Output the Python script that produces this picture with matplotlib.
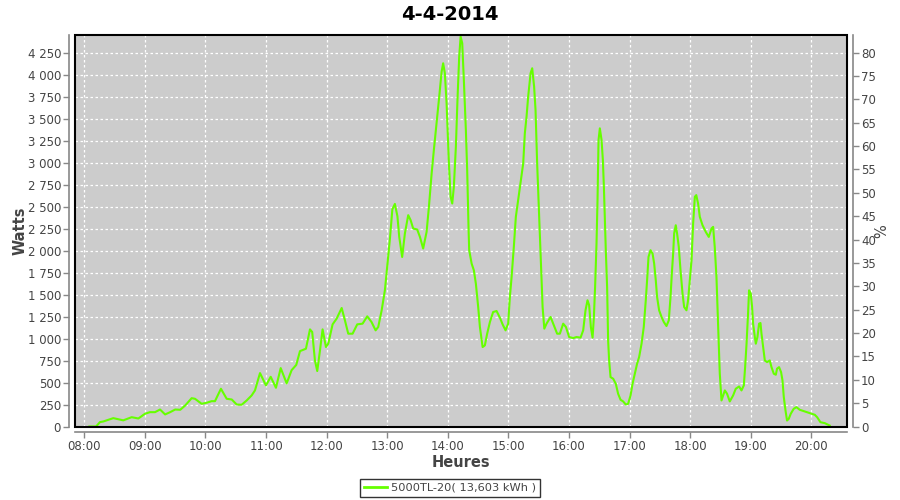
import matplotlib
matplotlib.use("Agg")
import matplotlib.pyplot as plt
from matplotlib.ticker import FuncFormatter, FixedLocator
from matplotlib.patches import Rectangle
from matplotlib.lines import Line2D

# ---- data (minutes after 08:00, watts) ----
minutes = [5, 11.6, 15.5, 18.8, 22.2, 28.7, 33.7, 38.6, 46.9, 53.5, 60.1, 65, 70, 75, 80, 85, 90, 95, 100,
           106.3, 109.6, 116.2, 121.2, 126.1, 129.4, 135.3, 141, 146, 150.9, 155.8, 160.8, 165.7, 169, 174,
           179.9, 184.6, 189.8, 194.5, 200.4, 205.3, 209.9, 213.6, 219.5, 223.5, 225.7, 228.4, 230.7, 233.4,
           236, 239.3, 241.6, 245.9, 249.9, 254.9, 258.1, 261.4, 265.7, 270.3, 275.6, 280.2, 284.5, 288.5,
           291.1, 294.5, 297.7, 300, 302.7, 305.1, 307.6, 310.1, 311.9, 314.8, 317.5, 320.8, 323.2, 325.7,
           329.7, 332.4, 335.6, 339, 341.3, 344, 346.2, 348.9, 351.5, 353.9, 355.4, 357.1, 358.8, 361.1,
           362.8, 364.4, 366, 368, 369.7, 371.3, 372.7, 374.3, 375.9, 377.9, 379.2, 380.6, 381.2, 383.6,
           385.8, 387.8, 390.1, 391.8, 394.5, 396.7, 399, 401.7, 404.9, 408.3, 411.6, 414.3, 417.2, 419.8,
           421.5, 423.2, 425.4, 427.4, 429.7, 432.4, 434.7, 436.3, 438, 439.6, 442, 443.6, 445.5, 446.9,
           448.5, 450.5, 451.9, 452.9, 453.9, 455.6, 457.8, 461.8, 465, 468.3, 471, 474.3, 477, 480.2,
           484.2, 487.5, 491.5, 494.1, 496.4, 498.4, 500, 501.7, 503.4, 504.7, 505.9, 507.3, 508.3, 509.3,
           510.6, 512.3, 513.6, 514.6, 515.5, 516.5, 517.8, 518.8, 519.8, 521.2, 523.8, 526.4, 528.7,
           531.1, 533.7, 536.3, 538.6, 541, 543, 545.2, 547.5, 549.5, 551.9, 554.1, 556.1, 557.4, 558.8,
           560.8, 562.8, 564.4, 566, 567.3, 569.3, 571.7, 574, 576.6, 578.9, 580.6, 581.9, 583.2, 584.2,
           585.8, 587.1, 588.8, 590.5, 592.5, 594.1, 596.4, 598, 599.7, 601.4, 603, 604.7, 606.1, 607.9,
           609.6, 612.3, 615.5, 618.5, 621.2, 622.8, 624.4, 626.1, 627.1, 628.1, 629.4, 631.1, 632.7,
           634.4, 636.6, 639.3, 642.6, 645.2, 648.5, 650.9, 653.2, 654.5, 655.9, 657.4, 658.4, 660.1,
           661.4, 662.4, 664.1, 665.1, 666.7, 668.3, 669.7, 670.7, 672.3, 674, 676.2, 678.9, 680.6, 682.9,
           684.9, 686.1, 688.1, 690.1, 691.5, 692.8, 694.5, 696, 697.7, 699.7, 702.6, 705.3, 708.6, 713.5,
           718.5, 723.5, 725.8, 729.1, 733.4, 738.3]
watts = [0, 0, 50, 57, 70, 95, 83, 70, 106, 91, 145, 163, 163, 193, 137, 163, 193, 190, 240,
         322, 315, 258, 270, 288, 288, 429, 315, 307, 250, 247, 296, 353, 410, 607,
         467, 565, 440, 664, 490, 640, 700, 857, 884, 1104, 1074, 751, 630, 865,
         1104, 903, 941, 1161, 1226, 1347, 1207, 1055, 1055, 1161, 1169, 1252, 1187, 1093,
         1131, 1321, 1548, 1814, 2137, 2470, 2530, 2390, 2155, 1927, 2194, 2402, 2345, 2251,
         2239, 2155, 2023, 2212, 2497, 2877, 3142, 3446, 3749, 4034, 4129, 4015, 3674, 2991,
         2611, 2535, 2725, 3180, 3749, 4205, 4432, 4357, 3939, 3370, 2915, 2231, 2004, 1852,
         1776, 1624, 1358, 1131, 903, 922, 1055, 1187, 1301, 1313, 1237, 1161, 1093, 1169,
         1472, 1700, 2041, 2383, 2573, 2801, 2991, 3332, 3521, 3749, 4015, 4072, 3863, 3598,
         2991, 2383, 1927, 1624, 1358, 1112, 1169, 1245, 1150, 1055, 1055, 1169, 1131, 1017,
         1005, 1017, 1010, 1093, 1321, 1435, 1378, 1131, 1010, 1245, 1586, 2080, 2573, 3256,
         3389, 3256, 3028, 2725, 2383, 2004, 1586, 979, 751, 561, 543, 486, 372,
         304, 285, 250, 258, 353, 486, 600, 714, 789, 941, 1131, 1435, 1662, 1927,
         2004, 1966, 1852, 1662, 1472, 1321, 1245, 1187, 1142, 1207, 1472, 1738, 1966, 2194,
         2288, 2194, 2041, 1776, 1511, 1358, 1321, 1435, 1662, 1890, 2307, 2611, 2630, 2535,
         2383, 2288, 2212, 2155, 2251, 2269, 2041, 1700, 1358, 979, 600, 296, 353,
         410, 372, 285, 353, 429, 455, 410, 467, 675, 941, 1283, 1548, 1511,
         1358, 1169, 1017, 941, 1017, 1169, 1176, 1055, 903, 751, 732, 751, 675, 600,
         588, 657, 675, 618, 524, 334, 182, 68, 87, 145, 201, 220, 190, 171,
         151, 133, 106, 49, 38, 11]

hour_ticks = list(range(8, 21))
hour_labels = [f"{h:02d}:00" for h in hour_ticks]
watt_ticks = list(range(0, 4251, 250))
pct_ticks = list(range(0, 81, 5))
title = "4-4-2014"
series_label = "5000TL-20( 13,603 kWh )"

GREEN = "#66FF00"
AXIS_GRAY = "#888888"
TEXT = "#444444"

plt.rcParams['font.family'] = ['DejaVu Sans']

fig = plt.figure(figsize=(9, 5), dpi=100)
fig.patch.set_facecolor("white")
ax = fig.add_axes([75/900, 1-426.5/500, (847-75)/900, (426.5-35)/500])
ax.set_facecolor("#CCCCCC")

hours = [8 + m/60 for m in minutes]
ax.plot(hours, watts, color=GREEN, lw=1.5, zorder=3)

ymax = 4450
ax.set_xlim(7.846, 20.59)
ax.set_ylim(0, ymax)

ax.xaxis.set_major_locator(FixedLocator(hour_ticks))
ax.set_xticklabels(hour_labels)
ax.yaxis.set_major_locator(FixedLocator(watt_ticks))
ax.yaxis.set_major_formatter(FuncFormatter(lambda v, p: f"{int(v):,}".replace(",", " ")))

ax.grid(True, color="white", linestyle=(0, (2, 2)), linewidth=0.9, zorder=1)
ax.set_axisbelow(True)

for side in ["left", "bottom"]:
    ax.spines[side].set_position(("outward", 4))
    ax.spines[side].set_color(AXIS_GRAY)
    ax.spines[side].set_linewidth(1.2)
ax.spines["top"].set_visible(False)
ax.spines["right"].set_visible(False)

ax.add_patch(Rectangle((0, 0), 1, 1, transform=ax.transAxes, fill=False,
                       edgecolor="black", linewidth=1.5, zorder=5, clip_on=False))

ax.tick_params(axis="both", colors=AXIS_GRAY, labelcolor=TEXT, labelsize=8.5,
               length=4, width=1, direction="out", pad=2)

ax2 = ax.twinx()
ax2.set_ylim(0, ymax * 80 / 4250)
ax2.yaxis.set_major_locator(FixedLocator(pct_ticks))
for side in ["left", "bottom", "top"]:
    ax2.spines[side].set_visible(False)
ax2.spines["right"].set_position(("outward", 4))
ax2.spines["right"].set_color(AXIS_GRAY)
ax2.spines["right"].set_linewidth(1.2)
ax2.tick_params(axis="y", colors=AXIS_GRAY, labelcolor=TEXT, labelsize=8.5,
                length=4, width=1, direction="out", pad=2)
ax2.set_ylabel("%", fontsize=10.5, color=TEXT)
ax2.yaxis.set_label_coords((874 - 75) / 772, 0.5)

ax.set_ylabel("Watts", fontsize=10.5, fontweight="bold", color=TEXT)
ax.yaxis.set_label_coords((28 - 75) / 772, 0.5)
ax.set_xlabel("Heures", fontsize=10.5, fontweight="bold", color=TEXT, labelpad=1)

fig.text(0.5, 1-14/500, title, ha="center", va="center", fontsize=14, fontweight="bold", color="black")

handle = Line2D([0], [0], color=GREEN, lw=2)
leg = fig.legend([handle], [series_label], loc="center", bbox_to_anchor=(0.5, 1-488/500),
                 frameon=True, fancybox=False, shadow=False, fontsize=8.2,
                 handlelength=2.0, handletextpad=0.4, borderpad=0.35, borderaxespad=0)
leg.get_frame().set_edgecolor("black")
leg.get_frame().set_linewidth(1)
for t in leg.get_texts():
    t.set_color(TEXT)

fig.savefig("out.png", dpi=100, facecolor="white")
